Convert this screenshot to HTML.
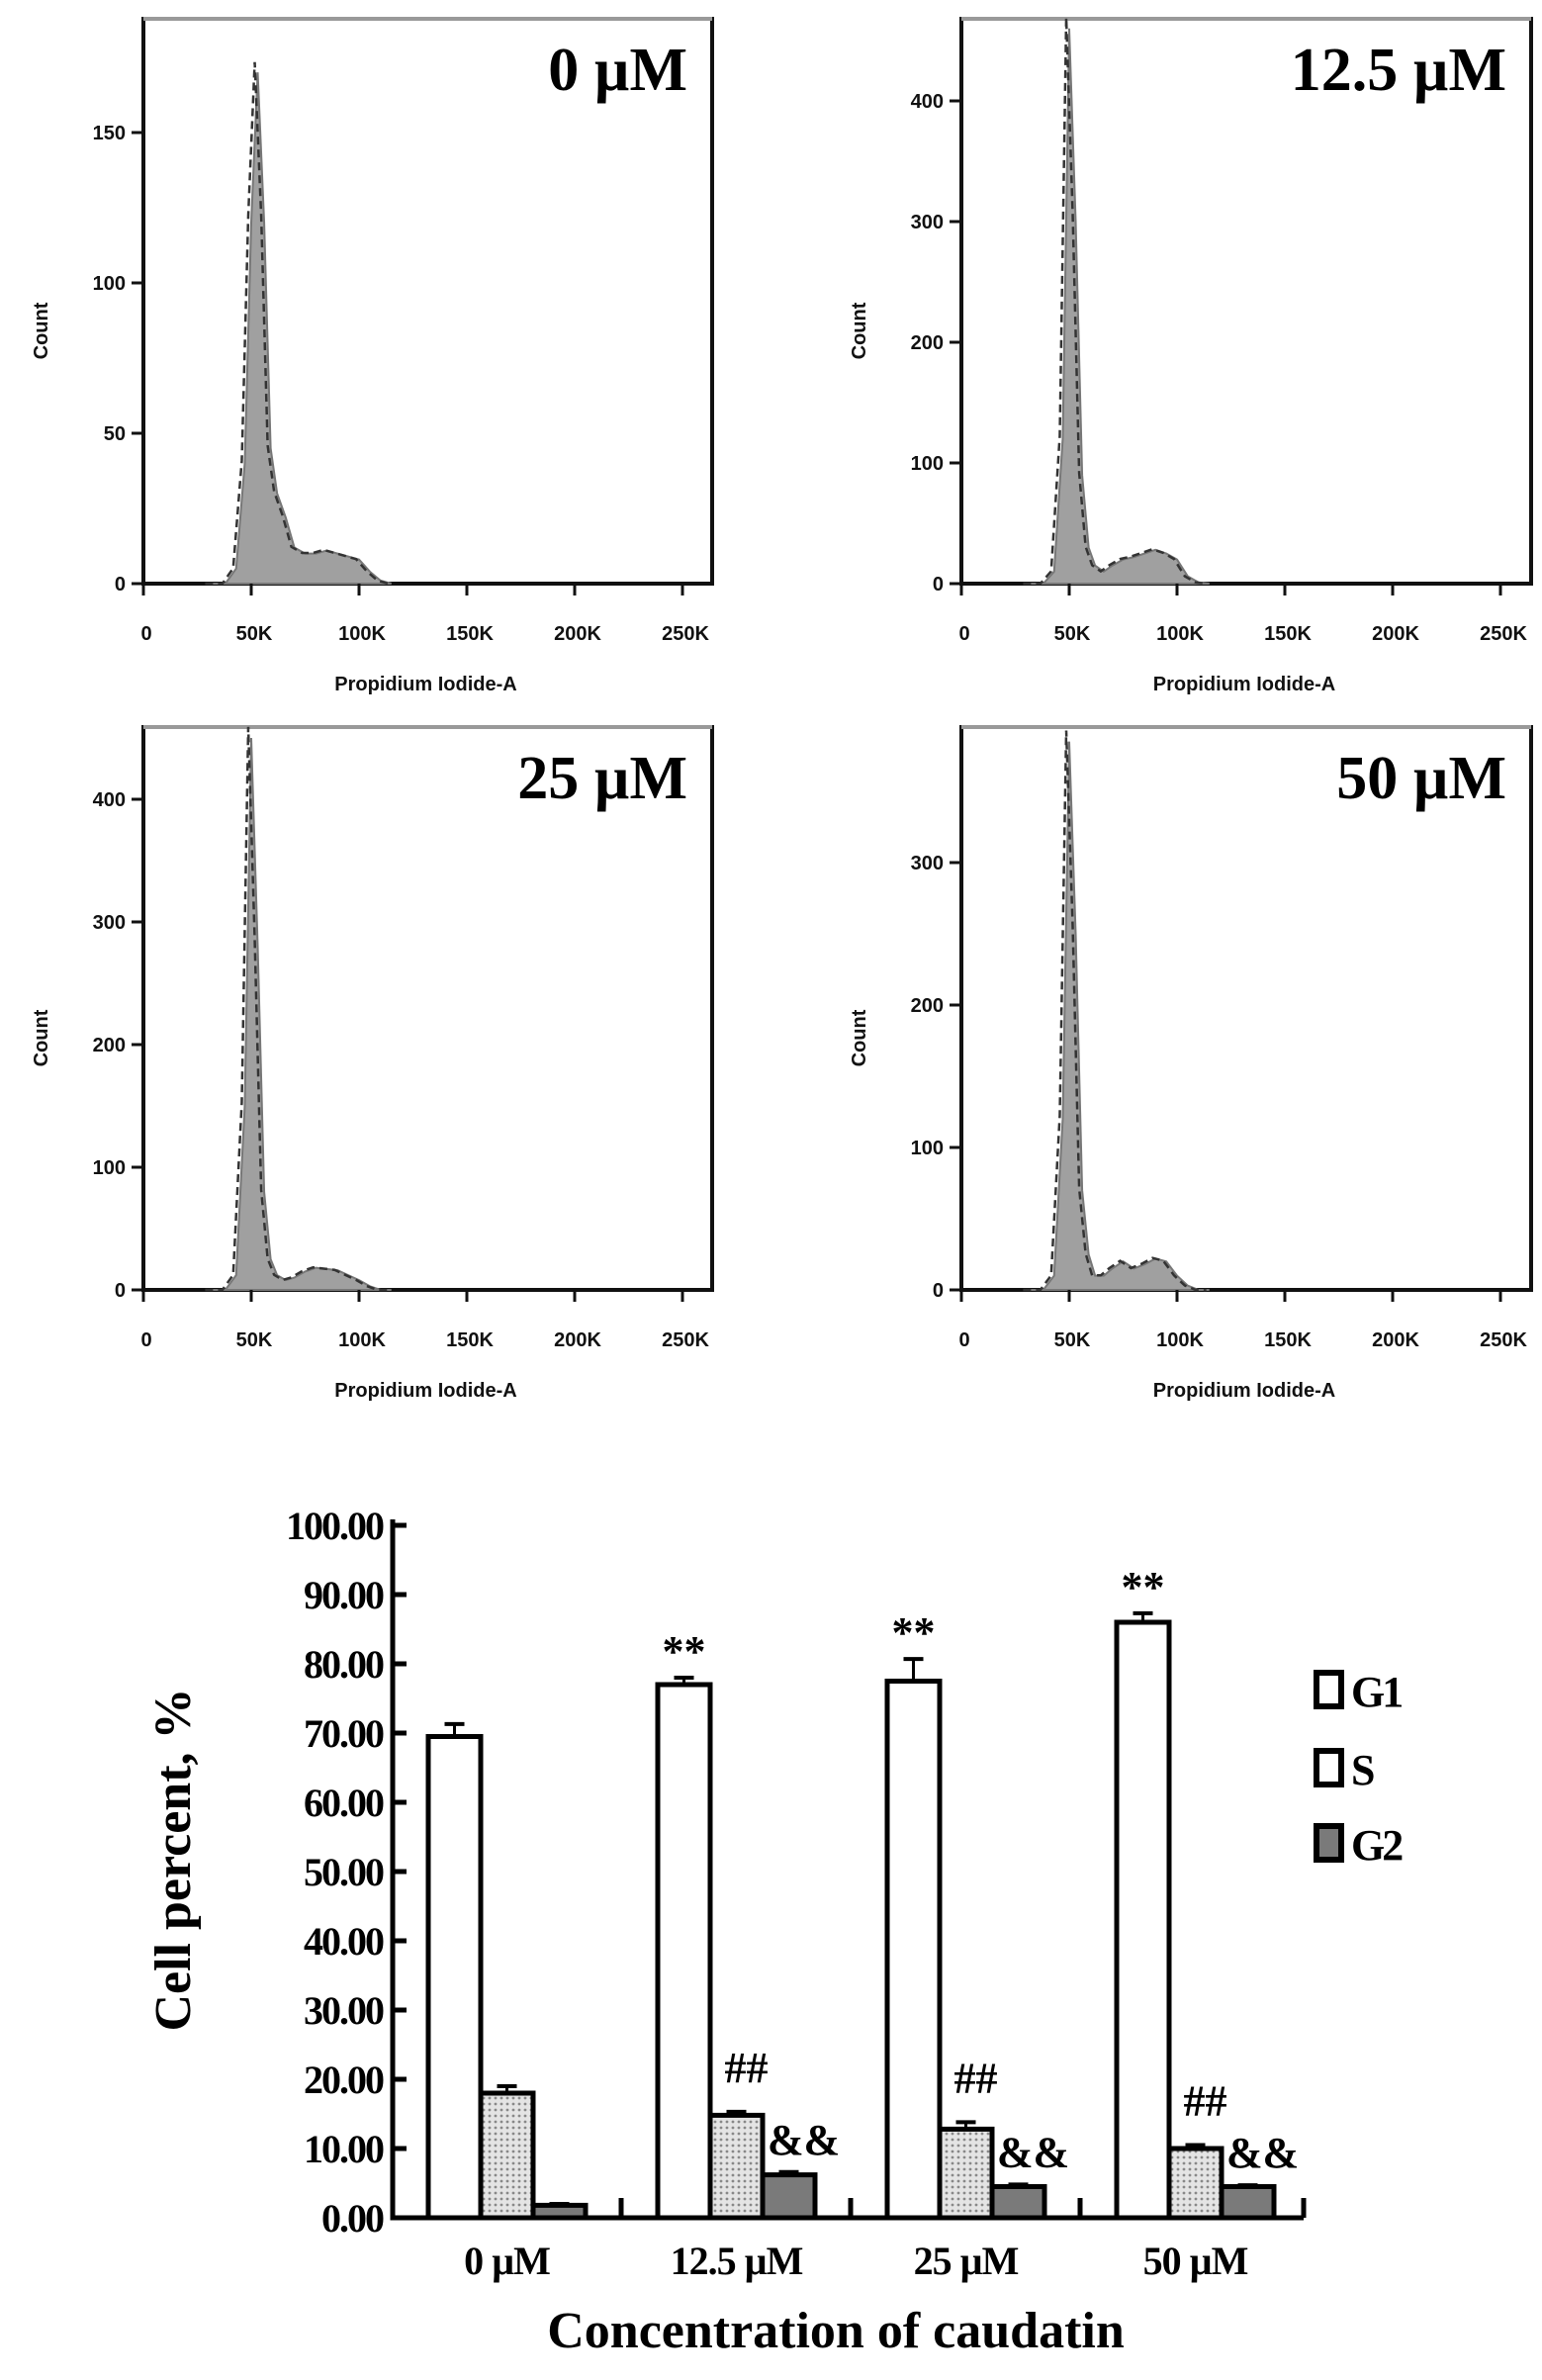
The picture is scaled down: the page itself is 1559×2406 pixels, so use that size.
<!DOCTYPE html>
<html><head><meta charset="utf-8"><style>
body{margin:0;background:#fff;}
svg{display:block;}
.tk{font-family:"Liberation Sans",Arial,sans-serif;font-weight:bold;font-size:20px;fill:#111;}
.serif{font-family:"Liberation Serif","Times New Roman",serif;font-weight:bold;fill:#000;}
</style></head><body>
<svg id="fig" width="1559" height="2406" viewBox="0 0 1559 2406" xmlns="http://www.w3.org/2000/svg">
<defs>
<pattern id="dots" width="6" height="6" patternUnits="userSpaceOnUse">
<rect width="6" height="6" fill="#e4e4e4"/><circle cx="3" cy="3" r="1.4" fill="#888"/>
</pattern>
</defs>
<g id="hists"></g>
<g id="bars"></g>
</svg>
<script>
// ---------- histogram data ----------
const histLabels = ["0 µM","12.5 µM","25 µM","50 µM"];
const histX = [30,38,43,47,50,53,56,59,62,66,70,75,80,85,90,95,100,105,110,115];
const histCounts = [
 [0,0,5,40,120,170,120,45,30,22,12,10,10,11,10,9,8,4,1,0],
 [0,0,10,120,460,300,90,30,15,10,15,20,22,25,28,25,20,6,1,0],
 [0,0,12,150,450,280,80,25,12,8,10,15,18,17,16,12,8,3,0,0],
 [0,0,10,120,385,250,70,25,10,10,15,20,15,18,22,20,10,3,0,0]
];
const histYTicks = [[0,50,100,150],[0,100,200,300,400],[0,100,200,300,400],[0,100,200,300]];
const histXTicks = [0,50,100,150,200,250];
const histXTickLabels = ["0","50K","100K","150K","200K","250K"];
// layout
const panels = [
 {l:145,r:720,t:19,b:590,ppu:3.04},
 {l:972,r:1548,t:19,b:590,ppu:1.22},
 {l:145,r:720,t:735,b:1304,ppu:1.24},
 {l:972,r:1548,t:735,b:1304,ppu:1.44}
];
const NS="http://www.w3.org/2000/svg";
function mk(tag,attrs,parent){const e=document.createElementNS(NS,tag);for(const k in attrs)e.setAttribute(k,attrs[k]);parent.appendChild(e);return e;}
const H=document.getElementById('hists');
panels.forEach((p,i)=>{
 const g=mk('g',{},H);
 
 
 const xs=v=>p.l+v*2.18;
 const ys=v=>p.b-v*p.ppu;
 const fr=mk('rect',{x:p.l,y:p.t,width:p.r-p.l,height:p.b-p.t,fill:'none',stroke:'#111','stroke-width':4},g);
 
 mk('line',{x1:p.l,y1:p.t,x2:p.r,y2:p.t,stroke:'#999','stroke-width':4},g);
 let d='M'+xs(histX[0])+','+p.b;
 histX.forEach((x,j)=>{d+=' L'+xs(x)+','+ys(histCounts[i][j]);});
 d+=' L'+xs(histX[histX.length-1])+','+p.b+' Z';
 const area=mk('path',{d:d,fill:'#a0a0a0',stroke:'#777','stroke-width':2},g);
 
 let d2='';histX.forEach((x,j)=>{d2+=(j?' L':'M')+(xs(x)-3)+','+ys(histCounts[i][j]*1.02);});
 const fit=mk('path',{d:d2,fill:'none',stroke:'#333','stroke-width':2.5,'stroke-dasharray':'8 5'},g);
 
 histYTicks[i].forEach(v=>{
  mk('line',{x1:p.l-12,y1:ys(v),x2:p.l,y2:ys(v),stroke:'#111','stroke-width':3},g);
  const t=mk('text',{x:p.l-18,y:ys(v)+7,'text-anchor':'end',class:'tk'},g);t.textContent=v;
  
 });
 histXTicks.forEach((v,j)=>{
  mk('line',{x1:xs(v),y1:p.b,x2:xs(v),y2:p.b+12,stroke:'#111','stroke-width':3},g);
  const t=mk('text',{x:xs(v)+3,y:p.b+57,'text-anchor':'middle',class:'tk'},g);t.textContent=histXTickLabels[j];
  
 });
 const xt=mk('text',{x:(p.l+p.r)/2-2,y:p.b+108,'text-anchor':'middle',class:'tk'},g);xt.textContent='Propidium Iodide-A';
 
 const yt=mk('text',{x:0,y:0,'text-anchor':'middle',class:'tk',transform:'translate('+(p.l-97)+','+((p.t+p.b)/2+30)+') rotate(-90)'},g);yt.textContent='Count';
 
 const lb=mk('text',{x:p.r-25,y:p.t+72,'text-anchor':'end',class:'serif','font-size':62},g);lb.textContent=histLabels[i];
 
});

// ---------- bar chart data ----------
const barCategories = ["0 µM","12.5 µM","25 µM","50 µM"];
const g1Values = [69.5,77,77.5,86];
const g1Err = [1.8,1,3.2,1.3];
const sValues = [18,14.8,12.8,10];
const sErr = [1,0.5,1,0.5];
const g2Values = [1.8,6.2,4.5,4.5];
const g2Err = [0.2,0.4,0.3,0.2];
const yTickValues = [0,10,20,30,40,50,60,70,80,90,100];
const g1Marks = ["","**","**","**"];
const sMarks = ["","##","##","##"];
const g2Marks = ["","&&","&&","&&"];

const B=document.getElementById('bars');
const y0=2242, ppu=7.0, ax=397, axEnd=1318, bw=53;
const yS=v=>y0-v*ppu;
const gx=i=>433+i*232;
const axes=mk('path',{d:'M'+ax+','+(yS(100)-6)+' L'+ax+','+y0+' L'+axEnd+','+y0,fill:'none',stroke:'#000','stroke-width':5},B);

yTickValues.forEach(v=>{
 mk('line',{x1:ax,y1:yS(v),x2:ax+14,y2:yS(v),stroke:'#000','stroke-width':5},B);
 const t=mk('text',{x:ax-10,y:yS(v)+14,'text-anchor':'end',class:'serif','font-size':40,'letter-spacing':'-2'},B);
 t.textContent=v.toFixed(2);
 
});
for(let i=1;i<4;i++){const x=gx(i)-37;mk('line',{x1:x,y1:y0,x2:x,y2:y0-20,stroke:'#000','stroke-width':5},B);}
mk('line',{x1:axEnd,y1:y0,x2:axEnd,y2:y0-20,stroke:'#000','stroke-width':5},B);
function bar(x,v,e,fill,name,mark,mdx,mdy){
 const r=mk('rect',{x:x,y:yS(v),width:bw,height:v*ppu,fill:fill,stroke:'#000','stroke-width':5},B);
 
 mk('line',{x1:x+bw/2,y1:yS(v),x2:x+bw/2,y2:yS(v+e),stroke:'#000','stroke-width':3},B);
 mk('line',{x1:x+bw/2-10,y1:yS(v+e),x2:x+bw/2+10,y2:yS(v+e),stroke:'#000','stroke-width':4},B);
 if(mark){const t=mk('text',{x:x+bw/2+mdx,y:yS(v+e)+mdy,'text-anchor':'middle',class:'serif','font-size':44},B);t.textContent=mark;
  }
}
barCategories.forEach((c,i)=>{
 const x=gx(i);
 bar(x,g1Values[i],g1Err[i],'#fff','bar-g1-'+i,g1Marks[i],0,-12);
 bar(x+bw,sValues[i],sErr[i],'url(#dots)','bar-s-'+i,sMarks[i],10,-30);
 bar(x+2*bw,g2Values[i],g2Err[i],'#7a7a7a','bar-g2-'+i,g2Marks[i],15,-18);
 const t=mk('text',{x:x+bw*1.5,y:y0+57,'text-anchor':'middle',class:'serif','font-size':40,'letter-spacing':'-1'},B);t.textContent=c;
 
});
const yt=mk('text',{x:0,y:0,'text-anchor':'middle',class:'serif','font-size':52,transform:'translate(192,1880) rotate(-90)'},B);
yt.textContent='Cell percent, %';
const xt=mk('text',{x:845,y:2373,'text-anchor':'middle',class:'serif','font-size':52},B);
xt.textContent='Concentration of caudatin';
const legNames=["G1","S","G2"], legFills=['#fff','#fff','#7a7a7a'], legY=[1688,1767,1843];
legNames.forEach((n,i)=>{
 const g=mk('g',{},B);
 
 mk('rect',{x:1331,y:legY[i]+3,width:25,height:34,fill:legFills[i],stroke:'#000','stroke-width':6},g);
 const t=mk('text',{x:1366,y:legY[i]+37,class:'serif','font-size':44,'letter-spacing':'-3'},g);t.textContent=n;
});
</script>
</body></html>
